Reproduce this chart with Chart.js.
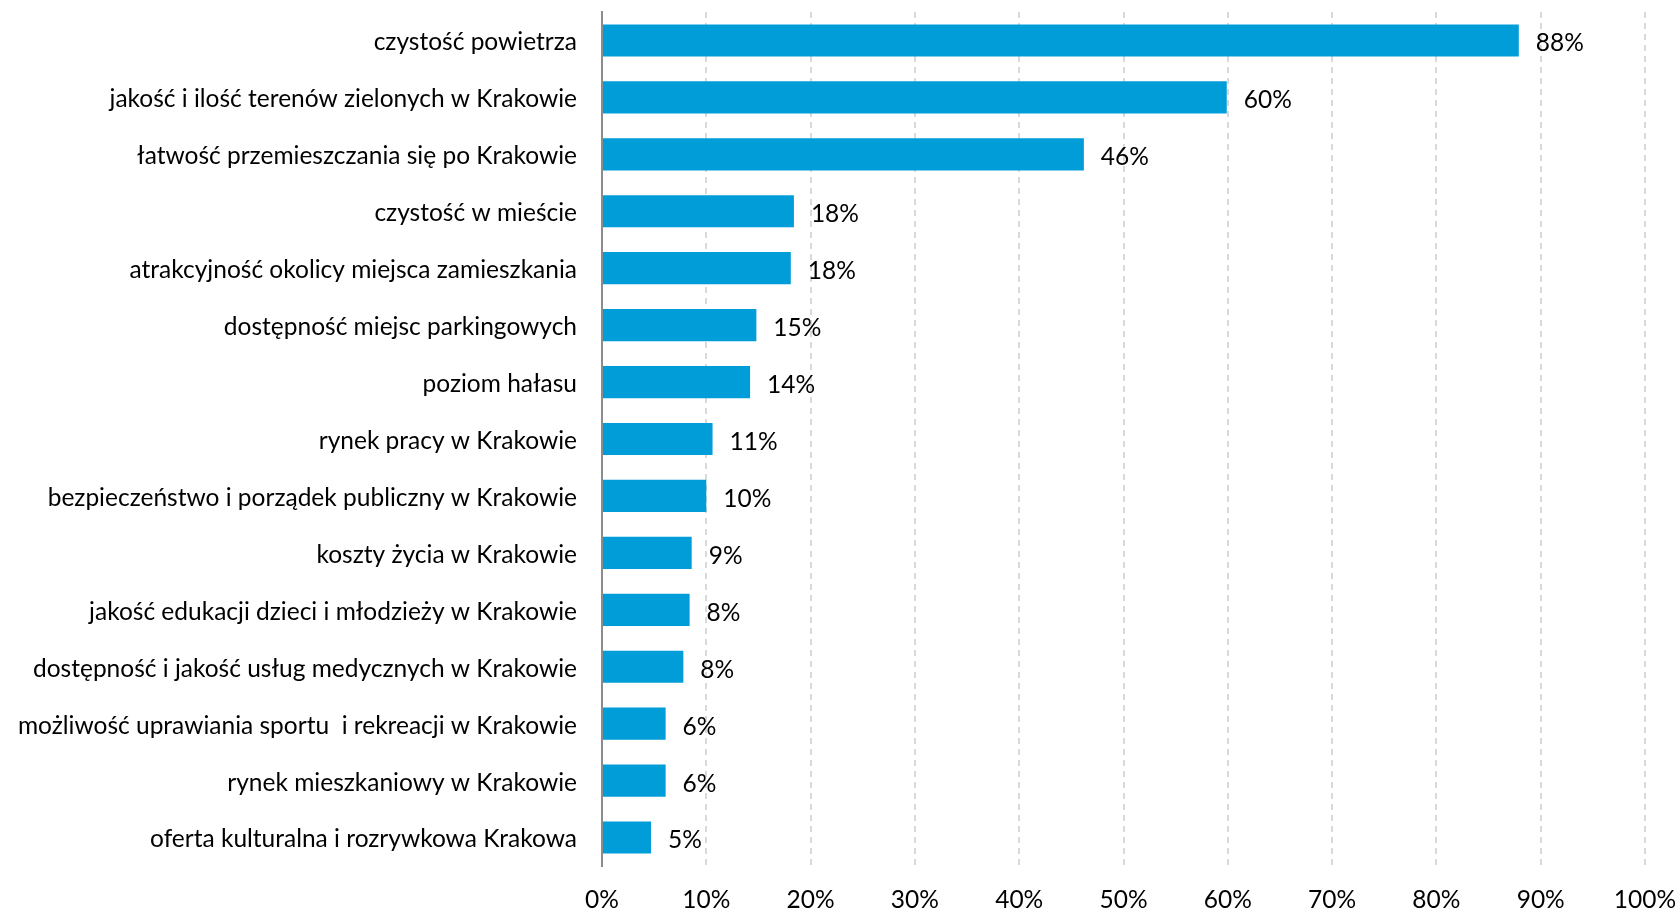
<!DOCTYPE html>
<html>
<head>
<meta charset="utf-8">
<script src="https://cdn.jsdelivr.net/npm/chart.js@4"></script>
<style>
  html, body { margin: 0; padding: 0; background: #fff; }
  #wrap { width: 1677px; height: 913px; position: relative; }
</style>
</head>
<body>
<div id="wrap"><canvas id="chart"></canvas></div>
<script>
const categories = [
  'czystość powietrza',
  'jakość i ilość terenów zielonych w Krakowie',
  'łatwość przemieszczania się po Krakowie',
  'czystość w mieście',
  'atrakcyjność okolicy miejsca zamieszkania',
  'dostępność miejsc parkingowych',
  'poziom hałasu',
  'rynek pracy w Krakowie',
  'bezpieczeństwo i porządek publiczny w Krakowie',
  'koszty życia w Krakowie',
  'jakość edukacji dzieci i młodzieży w Krakowie',
  'dostępność i jakość usług medycznych w Krakowie',
  'możliwość uprawiania sportu  i rekreacji w Krakowie',
  'rynek mieszkaniowy w Krakowie',
  'oferta kulturalna i rozrywkowa Krakowa'
];
const shares = [87.9, 59.9, 46.2, 18.4, 18.1, 14.8, 14.2, 10.6, 10.0, 8.6, 8.4, 7.8, 6.1, 6.1, 4.7];
const valueLabels = ['88%', '60%', '46%', '18%', '18%', '15%', '14%', '11%', '10%', '9%', '8%', '8%', '6%', '6%', '5%'];

const FONT = 'Lato, "Open Sans", sans-serif';
const FONT_SIZE = 24.5;

// draws the value next to the end of each bar
const barValues = {
  id: 'barValues',
  afterDatasetsDraw(chart) {
    const ctx = chart.ctx;
    const meta = chart.getDatasetMeta(0);
    ctx.save();
    ctx.font = FONT_SIZE + 'px ' + FONT;
    ctx.fillStyle = '#000';
    ctx.textAlign = 'left';
    ctx.textBaseline = 'middle';
    meta.data.forEach((bar, i) => {
      ctx.fillText(valueLabels[i], bar.x + 17, bar.y + 3);
    });
    ctx.restore();
  }
};

// chart area is set by layout padding alone
function noScalePadding(scale) {
  scale.paddingTop = 0;
  scale.paddingBottom = 0;
  scale.paddingLeft = 0;
  scale.paddingRight = 0;
}

new Chart(document.getElementById('chart'), {
  type: 'bar',
  data: {
    labels: categories,
    datasets: [{
      data: shares,
      backgroundColor: '#019dd9',
      barPercentage: 0.565,
      categoryPercentage: 1
    }]
  },
  options: {
    indexAxis: 'y',
    responsive: true,
    maintainAspectRatio: false,
    animation: false,
    layout: { padding: { top: 12, right: 32, bottom: 0, left: 0 } },
    plugins: { legend: { display: false }, tooltip: { enabled: false } },
    scales: {
      x: {
        min: 0,
        max: 100,
        ticks: {
          stepSize: 10,
          padding: 19,
          color: '#000',
          font: { family: FONT, size: FONT_SIZE },
          callback: (v) => v + '%'
        },
        grid: {
          drawTicks: false,
          color: (c) => c.index === 0 ? 'rgba(0,0,0,0)' : '#d9d9d9',
          lineWidth: 2
        },
        border: { display: false, dash: [6, 5] },
        afterFit: (scale) => { scale.height = 47; noScalePadding(scale); }
      },
      y: {
        ticks: {
          padding: 25,
          labelOffset: 2,
          color: '#000',
          font: { family: FONT, size: FONT_SIZE }
        },
        grid: { display: false, drawTicks: false },
        border: { display: true, color: '#8c8c8c', width: 2 },
        afterFit: (scale) => { scale.width = 602; noScalePadding(scale); }
      }
    }
  },
  plugins: [barValues]
});
</script>
</body>
</html>
